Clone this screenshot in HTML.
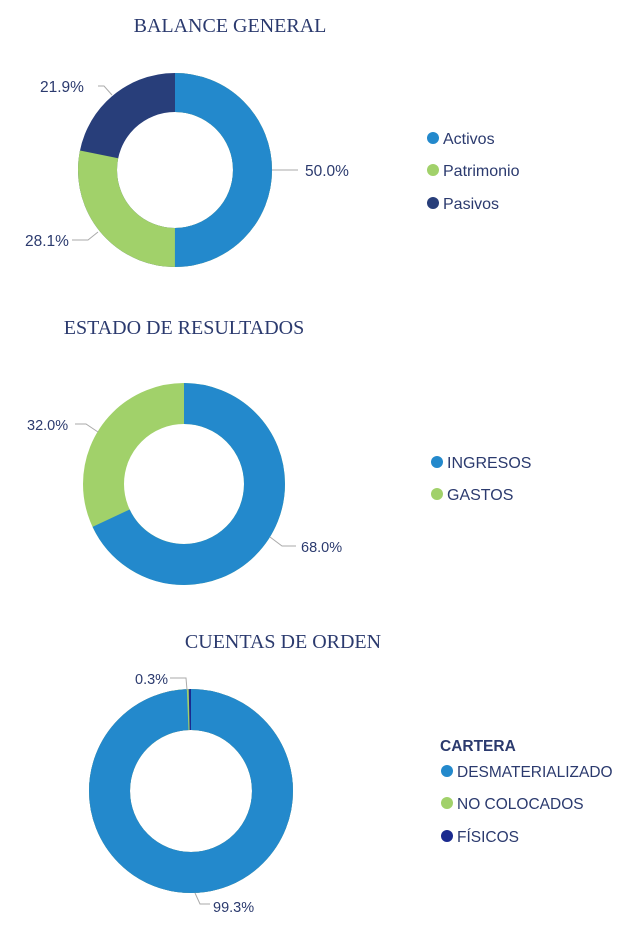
<!DOCTYPE html>
<html><head><meta charset="utf-8"><style>
body{margin:0;background:#fff;width:637px;height:929px;overflow:hidden}
svg text{font-family:"Liberation Sans",sans-serif;fill:#2b3a6e}
.t{font-family:"Liberation Serif",serif;font-size:20px}
.l{font-size:16px}
.l3{font-size:15.5px}
.p{font-size:15.5px}
.p2{font-size:14.5px}
</style></head><body>
<svg width="637" height="929" viewBox="0 0 637 929">
<text class="t" x="230" y="32" text-anchor="middle">BALANCE GENERAL</text>
<g transform="rotate(-90 175 170)" fill="none" stroke-width="39">
<circle cx="175" cy="170" r="77.5" stroke="#283e7a"/>
<circle cx="175" cy="170" r="77.5" stroke="#a1d16a" stroke-dasharray="380.8 1000"/>
<circle cx="175" cy="170" r="77.5" stroke="#2389cc" stroke-dasharray="243.45 1000"/>
</g>
<g stroke="#aaa" fill="none"><path d="M272 170H298"/><path d="M98 86H104L112 95"/><path d="M72 240H88L98 232"/></g>
<text class="p" x="305" y="176">50.0%</text>
<text class="p" x="40" y="92">21.9%</text>
<text class="p" x="25" y="246">28.1%</text>
<circle cx="433" cy="138" r="6" fill="#2389cc"/><text class="l" x="443" y="144">Activos</text>
<circle cx="433" cy="170" r="6" fill="#a1d16a"/><text class="l" x="443" y="176">Patrimonio</text>
<circle cx="433" cy="203" r="6" fill="#283e7a"/><text class="l" x="443" y="209">Pasivos</text>

<text class="t" x="184" y="334" text-anchor="middle">ESTADO DE RESULTADOS</text>
<g transform="rotate(-90 184 484)" fill="none" stroke-width="41">
<circle cx="184" cy="484" r="80.5" stroke="#a1d16a"/>
<circle cx="184" cy="484" r="80.5" stroke="#2389cc" stroke-dasharray="343.9 1000"/>
</g>
<g stroke="#aaa" fill="none"><path d="M75 424H86L98 432"/><path d="M270 537L282 546H296"/></g>
<text class="p2" x="27" y="430">32.0%</text>
<text class="p2" x="301" y="552">68.0%</text>
<circle cx="437" cy="462" r="6" fill="#2389cc"/><text class="l" x="447" y="468">INGRESOS</text>
<circle cx="437" cy="494" r="6" fill="#a1d16a"/><text class="l" x="447" y="500">GASTOS</text>

<text class="t" x="283" y="648" text-anchor="middle">CUENTAS DE ORDEN</text>
<g transform="rotate(-90 191 791)" fill="none" stroke-width="41">
<circle cx="191" cy="791" r="81.5" stroke="#1a2a8f"/>
<circle cx="191" cy="791" r="81.5" stroke="#a1d16a" stroke-dasharray="510 1000"/>
<circle cx="191" cy="791" r="81.5" stroke="#2389cc" stroke-dasharray="508.5 1000"/>
</g>
<g stroke="#aaa" fill="none"><path d="M170 678H186L187 690"/><path d="M195 893L200 904H210"/></g>
<text class="p2" x="135" y="684">0.3%</text>
<text class="p2" x="213" y="912">99.3%</text>
<text class="l3" x="440" y="751" style="font-weight:bold">CARTERA</text>
<circle cx="447" cy="771" r="6" fill="#2389cc"/><text class="l3" x="457" y="777">DESMATERIALIZADO</text>
<circle cx="447" cy="803" r="6" fill="#a1d16a"/><text class="l3" x="457" y="809">NO COLOCADOS</text>
<circle cx="447" cy="836" r="6" fill="#1a2a8f"/><text class="l3" x="457" y="842">FÍSICOS</text>
</svg>
</body></html>
